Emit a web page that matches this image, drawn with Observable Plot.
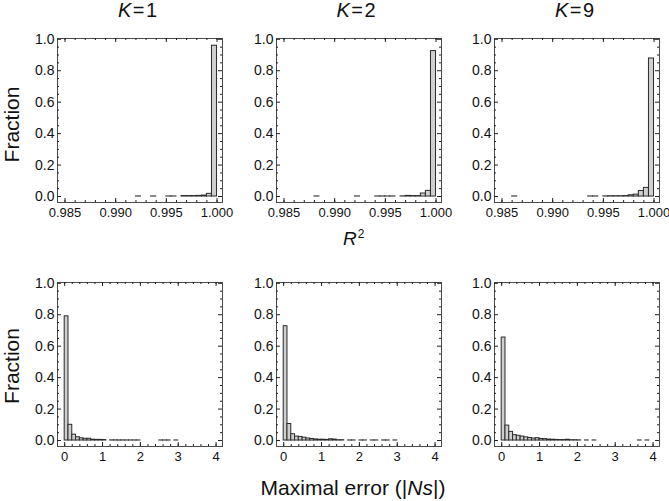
<!DOCTYPE html>
<html><head><meta charset="utf-8">
<script src="https://cdn.jsdelivr.net/npm/d3@7"></script>
<script src="https://cdn.jsdelivr.net/npm/@observablehq/plot@0.6"></script>
<style>
body{margin:0;background:#fff;}
#wrap{position:relative;width:669px;height:501px;overflow:hidden;font-family:"Liberation Sans",Arial,Helvetica,sans-serif;}
#wrap svg{position:absolute;}
</style></head><body><div id="wrap"></div>
<script>
// ---------- data ----------
const kLabels = ["1", "2", "9"];
const fracTicks = [0, 0.2, 0.4, 0.6, 0.8, 1.0];
const r2Ticks = [0.985, 0.990, 0.995, 1.000];
const errTicks = [0, 1, 2, 3, 4];

// R^2 histograms (bin width 0.0005), lower bin edges and fractions
const r2BinWidth = 0.0005;
const r2K1Bins = [0.992, 0.9935, 0.995, 0.9955, 0.9965, 0.997, 0.9975, 0.998, 0.9985, 0.999, 0.9995];
const r2K1Frac = [0.0005, 0.0005, 0.0005, 0.0005, 0.003, 0.003, 0.003, 0.004, 0.006, 0.017, 0.959];
const r2K2Bins = [0.988, 0.992, 0.994, 0.9945, 0.995, 0.9955, 0.9965, 0.997, 0.9975, 0.998, 0.9985, 0.999, 0.9995];
const r2K2Frac = [0.0005, 0.0005, 0.0005, 0.0005, 0.0005, 0.0005, 0.001, 0.004, 0.003, 0.003, 0.019, 0.036, 0.925];
const r2K9Bins = [0.986, 0.9935, 0.994, 0.995, 0.9955, 0.996, 0.9965, 0.997, 0.9975, 0.998, 0.9985, 0.999, 0.9995];
const r2K9Frac = [0.0005, 0.0005, 0.0005, 0.001, 0.002, 0.002, 0.002, 0.003, 0.008, 0.012, 0.035, 0.055, 0.878];

// Maximal error histograms (bin width 0.1)
const errBinWidth = 0.1;
const errK1Bins = [0, 0.1, 0.2, 0.3, 0.4, 0.5, 0.6, 0.7, 0.8, 0.9, 1.0, 1.2, 1.3, 1.4, 1.5, 1.6, 1.7, 1.8, 1.9, 2.5, 2.6, 2.7, 2.9];
const errK1Frac = [0.79, 0.10, 0.037, 0.021, 0.014, 0.011, 0.011, 0.005, 0.004, 0.004, 0.003, 0.001, 0.001, 0.0007, 0.0007, 0.0005, 0.0005, 0.0005, 0.0005, 0.0005, 0.0005, 0.0005, 0.0005];
const errK2Bins = [0, 0.1, 0.2, 0.3, 0.4, 0.5, 0.6, 0.7, 0.8, 0.9, 1.0, 1.1, 1.2, 1.3, 1.4, 1.5, 1.7, 1.8, 2.0, 2.1, 2.3, 2.4, 2.6, 2.7, 2.9];
const errK2Frac = [0.727, 0.105, 0.04, 0.025, 0.023, 0.018, 0.013, 0.01, 0.007, 0.005, 0.005, 0.004, 0.008, 0.006, 0.002, 0.002, 0.0005, 0.0005, 0.0005, 0.0005, 0.0005, 0.0005, 0.0005, 0.0005, 0.0005];
const errK9Bins = [0, 0.1, 0.2, 0.3, 0.4, 0.5, 0.6, 0.7, 0.8, 0.9, 1.0, 1.1, 1.2, 1.3, 1.4, 1.5, 1.6, 1.7, 1.8, 1.9, 2.0, 2.2, 2.4, 3.6, 3.8];
const errK9Frac = [0.655, 0.095, 0.055, 0.034, 0.03, 0.025, 0.02, 0.016, 0.013, 0.015, 0.01, 0.009, 0.006, 0.005, 0.004, 0.003, 0.003, 0.005, 0.002, 0.002, 0.001, 0.0005, 0.0005, 0.0005, 0.0005];

// ---------- layout ----------
const FONT = '"Liberation Sans", Arial, Helvetica, sans-serif';
const W = 165, H = 164;
const mL = 45, mR = 14, mT = 10, mB = 30;
const frameLefts = [57, 275.5, 494];
const frameTops = [37.5, 281.5];
const yDomain = [-0.038, 1.005];
const fracMinor = d3.range(0, 21).map(i => i * 0.05).filter((d, i) => i % 4 !== 0);
const r2Minor = d3.range(0, 16).map(i => 0.985 + i * 0.001);
const errMinor = d3.range(0, 21).map(i => i * 0.2);

function panel({bins, fracs, binWidth, xDomain, xMajor, xMinor, xFormat}) {
  const data = bins.map((b, i) => ({x1: b, x2: b + binWidth, f: fracs[i]}));
  const tk = "#222";
  return Plot.plot({
    width: mL + W + mR, height: mT + H + mB,
    marginLeft: mL, marginRight: mR, marginTop: mT, marginBottom: mB,
    style: {background: "transparent", fontFamily: FONT, fontSize: "14px", color: "#111", overflow: "visible"},
    x: {domain: xDomain},
    y: {domain: yDomain},
    marks: [
      Plot.rect(data, {x1: "x1", x2: "x2", y1: 0, y2: "f", fill: "#cfcfcf", stroke: "#2a2a2a", strokeWidth: 1}),
      Plot.frame({stroke: "#4a4a4a"}),
      Plot.tickX(xMajor, {x: d => d, insetTop: H - 4, stroke: tk}),
      Plot.tickX(xMajor, {x: d => d, insetBottom: H - 4, stroke: tk}),
      Plot.tickX(xMinor, {x: d => d, insetTop: H - 2, stroke: tk}),
      Plot.tickX(xMinor, {x: d => d, insetBottom: H - 2, stroke: tk}),
      Plot.tickY(fracTicks, {y: d => d, insetRight: W - 4, stroke: tk}),
      Plot.tickY(fracTicks, {y: d => d, insetLeft: W - 4, stroke: tk}),
      Plot.tickY(fracMinor, {y: d => d, insetRight: W - 2, stroke: tk}),
      Plot.tickY(fracMinor, {y: d => d, insetLeft: W - 2, stroke: tk}),
      Plot.axisX({ticks: xMajor, tickSize: 0, tickPadding: 5, tickFormat: xFormat, label: null, fill: "#111", fontSize: 13}),
      Plot.axisY({ticks: fracTicks, tickSize: 0, tickPadding: 3, tickFormat: d3.format(".1f"), label: null, fill: "#111"})
    ]
  });
}

const wrap = document.getElementById("wrap");
const topSets = [[r2K1Bins, r2K1Frac], [r2K2Bins, r2K2Frac], [r2K9Bins, r2K9Frac]];
const botSets = [[errK1Bins, errK1Frac], [errK2Bins, errK2Frac], [errK9Bins, errK9Frac]];

topSets.forEach(([bins, fracs], i) => {
  const svg = panel({bins, fracs, binWidth: r2BinWidth, xDomain: [0.98426, 1.00054], xMajor: r2Ticks, xMinor: r2Minor, xFormat: d3.format(".3f")});
  svg.style.left = (frameLefts[i] - mL) + "px";
  svg.style.top = (frameTops[0] - mT) + "px";
  wrap.appendChild(svg);
});
botSets.forEach(([bins, fracs], i) => {
  const svg = panel({bins, fracs, binWidth: errBinWidth, xDomain: [-0.19, 4.17], xMajor: errTicks, xMinor: errMinor, xFormat: d3.format("d")});
  svg.style.left = (frameLefts[i] - mL) + "px";
  svg.style.top = (frameTops[1] - mT) + "px";
  wrap.appendChild(svg);
});

// ---------- overlay text ----------
const ov = d3.select(wrap).append("svg")
  .attr("width", 669).attr("height", 501)
  .style("left", "0px").style("top", "0px").style("pointer-events", "none")
  .attr("font-family", FONT).attr("fill", "#111");

kLabels.forEach((k, i) => {
  const t = ov.append("text").attr("x", frameLefts[i] + W / 2 - 2).attr("y", 16.5)
    .attr("text-anchor", "middle").attr("font-size", 20);
  t.append("tspan").attr("font-style", "italic").text("K");
  t.append("tspan").attr("dx", 1.5).text("=");
  t.append("tspan").attr("dx", 1.5).text(k);
});

[124.5, 366].forEach(cy => {
  ov.append("text").attr("transform", `translate(19,${cy}) rotate(-90)`)
    .attr("text-anchor", "middle").attr("font-size", 21).text("Fraction");
});

const r2 = ov.append("text").attr("x", 343).attr("y", 245).attr("font-size", 19);
r2.append("tspan").attr("font-style", "italic").text("R");
r2.append("tspan").attr("font-size", 12).attr("dy", -7).attr("dx", 1).text("2");

const xl = ov.append("text").attr("x", 353).attr("y", 495).attr("text-anchor", "middle").attr("font-size", 21);
xl.append("tspan").text("Maximal error (|");
xl.append("tspan").attr("font-style", "italic").text("Ns");
xl.append("tspan").text("|)");
</script></body></html>
